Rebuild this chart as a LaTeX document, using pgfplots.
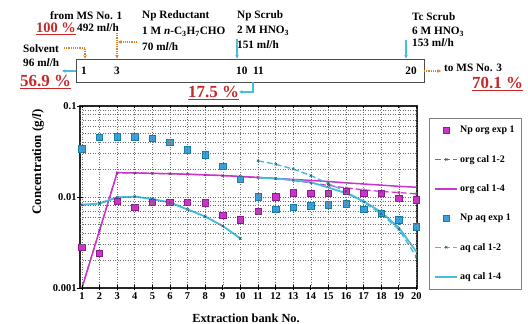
\documentclass[border=0pt]{standalone}
\usepackage{fontspec}
\setmainfont{Liberation Serif}
\usepackage{pgfplots}
\pgfplotsset{compat=1.18}
\usetikzlibrary{arrows.meta}
\definecolor{mag}{RGB}{204,51,204}
\definecolor{magd}{RGB}{140,30,140}
\definecolor{cya}{RGB}{70,190,220}
\definecolor{cyad}{RGB}{25,125,155}
\definecolor{orng}{RGB}{225,130,40}
\definecolor{pred}{RGB}{200,40,40}
\definecolor{gridc}{RGB}{110,110,110}
\newcommand{\fs}[1]{\fontsize{#1}{#1}\selectfont\bfseries}
\begin{document}
\begin{tikzpicture}
\path[use as bounding box] (0bp,0bp) rectangle (528bp,324bp);
\begin{axis}[
  at={(80bp,36bp)}, anchor=south west,
  scale only axis, width=337bp, height=182bp,
  ymode=log, xmin=0.89, xmax=20.03, ymin=0.001, ymax=0.1,
  xtick={1,...,20},
  ytick={0.001,0.01,0.1}, yticklabels={0.001,0.01,0.1},
  /pgf/number format/assume math mode=true,
  ticklabel style={font=\fs{10.5}},
  xticklabel style={yshift=-1bp},
  grid=none, major tick length=0pt, minor tick length=0pt,
  axis line style={black!85, line width=1.2bp},
  legend style={at={(1.036,0.934)}, anchor=north west, draw=gray, fill=white,
    font=\fs{10}, row sep=17bp, inner xsep=5bp, inner ysep=6bp},
  legend cell align=left,
  legend image code/.code={\draw[mark repeat=2,mark phase=2,#1] plot coordinates {(0bp,0bp) (11bp,0bp) (22bp,0bp)};},
]
\addplot[only marks, mark=square*, mark size=3.2bp, mark options={fill=mag, draw=magd, line width=0.6bp}] coordinates {
(1,0.0028) (2,0.0024) (3,0.0090) (4,0.0077) (5,0.0087) (6,0.0087) (7,0.0087) (8,0.0086) (9,0.0063) (10,0.0056)
(11,0.0070) (12,0.0101) (13,0.0111) (14,0.0110) (15,0.0110) (16,0.0115) (17,0.0110) (18,0.0110) (19,0.0097) (20,0.0093)};
\addlegendentry{Np org exp 1}
\addplot[mag, line width=1.2bp, dash pattern=on 6bp off 3bp, mark=x, mark size=1.6bp, mark options={solid, draw=magd, line width=0.6bp}] coordinates {
(1,0.001) (2,0.0043) (3,0.0185) (4,0.0184) (5,0.0182) (6,0.0180) (7,0.0178) (8,0.0175) (9,0.0172) (10,0.0168)
(11,0.0164) (12,0.0160) (13,0.0152) (14,0.0143) (15,0.0134) (16,0.0126) (17,0.0120) (18,0.0115) (19,0.0112) (20,0.0108)};
\addlegendentry{org cal 1-2}
\addplot[mag, line width=1.5bp] coordinates {
(1,0.001) (2,0.0043) (3,0.0185) (4,0.0184) (5,0.0182) (6,0.0180) (7,0.0178) (8,0.0175) (9,0.0172) (10,0.0168)
(11,0.0164) (12,0.0160) (13,0.0156) (14,0.0152) (15,0.0148) (16,0.0143) (17,0.0139) (18,0.0135) (19,0.0131) (20,0.0128)};
\addlegendentry{org cal 1-4}
\addplot[only marks, mark=square*, mark size=3.2bp, mark options={fill=cya!85!blue, draw=cyad, line width=0.6bp}] coordinates {
(1,0.034) (2,0.045) (3,0.046) (4,0.046) (5,0.044) (6,0.040) (7,0.033) (8,0.029) (9,0.0216) (10,0.0156)
(11,0.0101) (12,0.0073) (13,0.0077) (14,0.0080) (15,0.0082) (16,0.0084) (17,0.0073) (18,0.0066) (19,0.0056) (20,0.0047)};
\addlegendentry{Np aq exp 1}
\addplot[cya, line width=1.4bp, dash pattern=on 6bp off 3bp, mark=x, mark size=1.6bp, mark options={solid, draw=cyad!70!black, line width=0.6bp}] coordinates {
(11,0.0250) (12,0.0229) (13,0.0203) (14,0.0172) (15,0.0140) (16,0.0115) (17,0.0088) (18,0.0065) (19,0.0044) (20,0.0022)};
\addlegendentry{aq cal 1-2}
\addplot[cya, line width=1.8bp] coordinates {
(11,0.0163) (12,0.0159) (13,0.0154) (14,0.0145) (15,0.0127) (16,0.0110) (17,0.0090) (18,0.0068) (19,0.0046) (20,0.0025)};
\addlegendentry{aq cal 1-4}
\addplot[forget plot, cya, line width=1.8bp] coordinates {
(1,0.0082) (2,0.0085) (3,0.0099) (4,0.0101) (5,0.0095) (6,0.0087) (7,0.0073) (8,0.0061) (9,0.0048) (10,0.0035)};
\addplot[forget plot, cya, line width=1.4bp, dash pattern=on 6bp off 3bp, mark=x, mark size=1.6bp, mark options={solid, draw=cyad!70!black, line width=0.6bp}] coordinates {
(1,0.0082) (2,0.0085) (3,0.0099) (4,0.0101) (5,0.0095) (6,0.0087) (7,0.0073) (8,0.0061) (9,0.0048) (10,0.0035)};
\end{axis}
% grid and ticks (frame of the axis: x 80..417 bp, y 36..218 bp)
\begin{scope}[x=1bp,y=1bp]
\foreach \xx in {81.9,99.5,117.1,134.7,152.3,170.0,187.6,205.2,222.8,240.4,258.0,275.6,293.2,310.8,328.4,346.0,363.6,381.2,398.8,416.4}{
  \draw[gridc, dash pattern=on 1bp off 1.5bp, line width=0.6bp] (\xx,36)--(\xx,218);
  \draw[black, line width=0.8bp] (\xx,33.5)--(\xx,38.5);
  \draw[black, line width=0.8bp] (\xx,218)--(\xx,215.5);
}
\foreach \yy in {63.4,79.4,90.8,99.6,106.8,112.9,118.2,122.8,127.0,154.4,170.4,181.8,190.6,197.8,203.9,209.2,213.8}{
  \draw[gridc, dash pattern=on 1bp off 1.5bp, line width=0.6bp] (80,\yy)--(417,\yy);
}
\foreach \yy in {36,127,218}{
  \draw[black, line width=0.8bp] (77,\yy)--(83,\yy);
}
\end{scope}
\begin{scope}[x=1bp,y=1bp, t/.style={font=\fs{11.3}, anchor=west, inner sep=0pt}, pc/.style={font=\fs{17}, text=pred, anchor=west, inner sep=0pt}]
% axis labels
\node[font=\fs{12.4}] at (246,6) {Extraction bank No.};
\node[font=\fs{13}, rotate=90] at (38,162) {Concentration (g/\textit{l})};
% flow diagram
\draw[gray!60!black, line width=0.9bp, fill=white] (76,265) rectangle (424,242);
\node[font=\fs{11.3}] at (84,253.5) {1};
\node[font=\fs{11.3}] at (117,253.5) {3};
\node[font=\fs{11.3}] at (250,253.5) {10\ \ 11};
\node[font=\fs{11.3}] at (411,253.5) {20};
\node[t] at (50,308) {from MS No. 1};
\node[font=\fs{14.5}, text=pred, anchor=west, inner sep=0pt] at (36,295) {\underline{100 \%}};
\node[t] at (77,296) {492 m\textit{l}/h};
\node[t] at (142,308) {Np Reductant};
\node[t] at (142,292) {1 M \textit{n}-C\textsubscript{3}H\textsubscript{7}CHO};
\node[t] at (142,277) {70 m\textit{l}/h};
\node[t] at (237,308) {Np Scrub};
\node[t] at (237,293) {2 M HNO\textsubscript{3}};
\node[t] at (237,279) {151 m\textit{l}/h};
\node[t] at (412,307) {Tc Scrub};
\node[t] at (412,292) {6 M HNO\textsubscript{3}};
\node[t] at (412,281) {153 m\textit{l}/h};
\node[t] at (23,275) {Solvent};
\node[t] at (23,261) {96 m\textit{l}/h};
\node[pc] at (20,242) {\underline{56.9 \%}};
\node[pc] at (188,231) {\underline{17.5 \%}};
\node[t] at (444,256) {to MS No. 3};
\node[pc] at (472,240) {\underline{70.1 \%}};
% arrows
\draw[orng, densely dotted, line width=1.2bp, -{Stealth[length=3.5bp,width=3.5bp]}] (64,276)--(85,276)--(85,265.5);
\draw[orng, densely dotted, line width=1.2bp, -{Stealth[length=3.5bp,width=3.5bp]}] (117,291)--(117,265.5);
\draw[orng, densely dotted, line width=1.2bp, -{Stealth[length=3.5bp,width=3.5bp]}] (137,282)--(118,282);
\draw[cya, line width=1.1bp, -{Stealth[length=3.5bp,width=3.5bp]}] (237,285)--(237,265.5);
\draw[cya, line width=1.1bp, -{Stealth[length=3.5bp,width=3.5bp]}] (406,284)--(406,265.5);
\draw[cya, line width=1.1bp, -{Stealth[length=3.5bp,width=3.5bp]}] (76,253)--(62,253);
\draw[cya, line width=1.1bp, -{Stealth[length=3.5bp,width=3.5bp]}] (253,242)--(253,232)--(239,232);
\draw[orng, densely dotted, line width=1.2bp, -{Stealth[length=3.5bp,width=3.5bp]}] (424,253)--(441,253);
\end{scope}
\end{tikzpicture}
\end{document}
